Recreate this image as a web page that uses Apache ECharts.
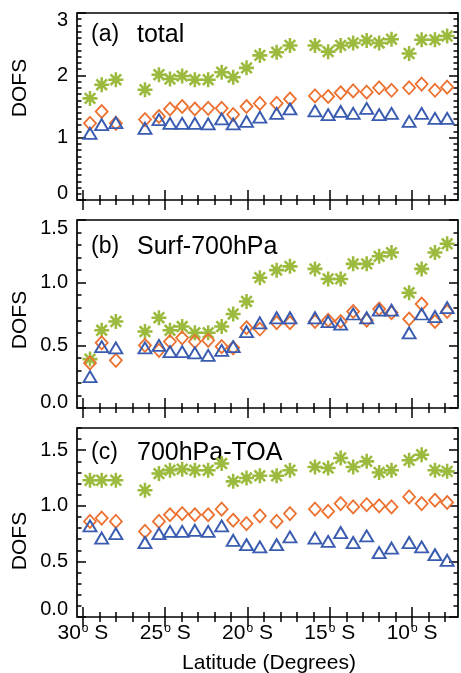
<!DOCTYPE html>
<html>
<head>
<meta charset="utf-8">
<script src="https://cdn.jsdelivr.net/npm/echarts@6/dist/echarts.min.js"></script>
<style>
  html, body { margin: 0; padding: 0; background: #fff; }
  #chart { width: 461px; height: 673px; }
</style>
</head>
<body>
<div id="chart"></div>
<script>
// Latitude of each retrieval bin (negative = southern hemisphere)
const latitudes = [-29.57, -28.86, -28.0, -26.23, -25.38, -24.71, -23.97, -23.2, -22.39, -21.57,
  -20.87, -20.06, -19.25, -18.23, -17.42, -15.9, -15.1, -14.34, -13.58, -12.76,
  -12.0, -11.25, -10.18, -9.42, -8.61, -7.87];

// (a) total column DOFS
const totalGreen = [1.63, 1.85, 1.93, 1.77, 2.01, 1.94, 1.99, 1.93, 1.93, 2.05, 1.97, 2.12, 2.32,
  2.37, 2.48, 2.48, 2.38, 2.48, 2.52, 2.56, 2.52, 2.58, 2.35, 2.57, 2.57, 2.63];
const totalOrange = [1.23, 1.42, 1.23, 1.29, 1.34, 1.46, 1.50, 1.46, 1.47, 1.47, 1.37, 1.50, 1.55,
  1.55, 1.62, 1.67, 1.66, 1.72, 1.75, 1.73, 1.80, 1.76, 1.80, 1.86, 1.76, 1.81];
const totalBlue = [1.07, 1.21, 1.24, 1.15, 1.29, 1.23, 1.23, 1.23, 1.22, 1.30, 1.22, 1.26, 1.33,
  1.39, 1.46, 1.43, 1.37, 1.42, 1.39, 1.47, 1.37, 1.39, 1.26, 1.39, 1.31, 1.31];

// (b) surface to 700 hPa
const lowerGreen = [0.39, 0.62, 0.69, 0.61, 0.72, 0.62, 0.65, 0.60, 0.60, 0.65, 0.75, 0.85, 1.04,
  1.10, 1.13, 1.11, 1.03, 1.03, 1.15, 1.15, 1.21, 1.24, 0.92, 1.11, 1.24, 1.31];
const lowerOrange = [0.36, 0.52, 0.38, 0.50, 0.46, 0.53, 0.56, 0.53, 0.54, 0.49, 0.48, 0.64, 0.63,
  0.68, 0.68, 0.69, 0.70, 0.69, 0.77, 0.70, 0.79, 0.76, 0.71, 0.83, 0.69, 0.77];
const lowerBlue = [0.25, 0.49, 0.48, 0.48, 0.50, 0.45, 0.45, 0.44, 0.42, 0.46, 0.49, 0.61, 0.68,
  0.72, 0.72, 0.72, 0.69, 0.67, 0.75, 0.72, 0.78, 0.78, 0.60, 0.75, 0.73, 0.80];

// (c) 700 hPa to top of atmosphere
const upperGreen = [1.23, 1.23, 1.23, 1.14, 1.29, 1.32, 1.33, 1.32, 1.32, 1.38, 1.22, 1.25, 1.27,
  1.27, 1.32, 1.35, 1.34, 1.43, 1.35, 1.40, 1.30, 1.32, 1.41, 1.46, 1.32, 1.31];
const upperOrange = [0.86, 0.89, 0.86, 0.77, 0.86, 0.92, 0.93, 0.92, 0.92, 0.97, 0.87, 0.84, 0.91,
  0.86, 0.93, 0.97, 0.95, 1.02, 0.99, 1.01, 1.00, 0.99, 1.08, 1.02, 1.05, 1.03];
const upperBlue = [0.82, 0.71, 0.75, 0.67, 0.75, 0.77, 0.77, 0.78, 0.77, 0.82, 0.69, 0.65, 0.63,
  0.65, 0.72, 0.71, 0.68, 0.76, 0.67, 0.73, 0.58, 0.62, 0.67, 0.63, 0.56, 0.51];

// Axis ticks and labels
const latMajorTicks = [-30, -25, -20, -15, -10];
const latMinorTicks = [-30, -29, -28, -27, -26, -25, -24, -23, -22, -21, -20, -19, -18, -17, -16,
  -15, -14, -13, -12, -11, -10, -9, -8];
const panelTitles = ['(a)', '(b)', '(c)'];
const panelNames = ['total', 'Surf-700hPa', '700hPa-TOA'];
const dofsMajor = [[0, 1, 2, 3], [0, 0.5, 1.0, 1.5], [0, 0.5, 1.0, 1.5]];
const dofsRange = [[0, 3], [0, 1.5], [0, 1.7]];

const GREEN = '#9cbb3e';
const ORANGE = '#ec7130';
const BLUE = '#3a5cb0';
const FONT = '"Liberation Sans", Arial, Helvetica, sans-serif';

// Eight-armed asterisk marker, built as a union of four bars
function asteriskPath() {
  const half = 50, t = 8.5;
  let d = '';
  [0, 45, 90, 135].forEach(function (deg) {
    const a = deg * Math.PI / 180, c = Math.cos(a), s = Math.sin(a);
    const pts = [[-half, -t], [half, -t], [half, t], [-half, t]].map(function (p) {
      return [(p[0] * c - p[1] * s + 50).toFixed(2), (p[0] * s + p[1] * c + 50).toFixed(2)];
    });
    d += 'M' + pts[0].join(' ') + 'L' + pts[1].join(' ') + 'L' + pts[2].join(' ') + 'L' + pts[3].join(' ') + 'Z';
  });
  return 'path://' + d;
}
const STAR = asteriskPath();

const grids = [
  { left: 77, top: 13, width: 381, height: 187 },
  { left: 77, top: 220, width: 381, height: 188 },
  { left: 77, top: 428, width: 381, height: 189 }
];

// Edge tick labels sit slightly inside the frame
const labelShift = [[13, 14], [12, 16], [16, 0]];

const xAxes = [], yAxes = [], series = [];
const tickStyle = { color: '#000', width: 1.5 };

grids.forEach(function (g, i) {
  const xmin = -30.36, xmax = -7.21;
  const base = { type: 'value', gridIndex: i, min: xmin, max: xmax, axisLine: { show: false },
    splitLine: { show: false } };
  // bottom major (carries the data)
  xAxes.push(Object.assign({}, base, {
    position: 'bottom',
    axisTick: { show: true, inside: true, length: 10, lineStyle: tickStyle, customValues: latMajorTicks },
    axisLabel: {
      show: i === 2, customValues: latMajorTicks, margin: 6,
      formatter: function (v) { return '{n|' + Math.abs(v) + '}{d|o}{n| S}'; },
      rich: {
        n: { fontSize: 21, fontFamily: FONT, color: '#000' },
        d: { fontSize: 12, fontFamily: FONT, color: '#000', verticalAlign: 'top', padding: [0, 0, 9, 1] }
      }
    }
  }));
  // bottom minor
  xAxes.push(Object.assign({}, base, {
    position: 'bottom',
    axisTick: { show: true, inside: true, length: 5, lineStyle: tickStyle, customValues: latMinorTicks },
    axisLabel: { show: false }
  }));
  // top major / minor
  xAxes.push(Object.assign({}, base, {
    position: 'top',
    axisTick: { show: true, inside: true, length: 10, lineStyle: tickStyle, customValues: latMajorTicks },
    axisLabel: { show: false }
  }));
  xAxes.push(Object.assign({}, base, {
    position: 'top',
    axisTick: { show: true, inside: true, length: 5, lineStyle: tickStyle, customValues: latMinorTicks },
    axisLabel: { show: false }
  }));

  const ymin = dofsRange[i][0], ymax = dofsRange[i][1];
  const minor = [];
  for (let k = 0; k <= Math.round(ymax * 10); k++) minor.push(k / 10);
  const ybase = { type: 'value', gridIndex: i, min: ymin, max: ymax, axisLine: { show: false },
    splitLine: { show: false } };
  const decimals = i === 0 ? 0 : 1;
  const top = dofsMajor[i][dofsMajor[i].length - 1];
  yAxes.push(Object.assign({}, ybase, {
    position: 'left',
    axisTick: { show: true, inside: true, length: 9, lineStyle: tickStyle, customValues: dofsMajor[i] },
    axisLabel: {
      show: true, customValues: dofsMajor[i], margin: 9, color: '#000',
      formatter: function (v) {
        const s = v.toFixed(decimals);
        if (v === 0) return '{lo|' + s + '}';
        if (v === top && labelShift[i][1] > 0) return '{hi|' + s + '}';
        return '{m|' + s + '}';
      },
      rich: {
        m: { fontSize: 20, fontFamily: FONT, color: '#000' },
        lo: { fontSize: 20, fontFamily: FONT, color: '#000', padding: [0, 0, labelShift[i][0], 0] },
        hi: { fontSize: 20, fontFamily: FONT, color: '#000', padding: [labelShift[i][1], 0, 0, 0] }
      }
    }
  }));
  yAxes.push(Object.assign({}, ybase, {
    position: 'left',
    axisTick: { show: true, inside: true, length: 4.5, lineStyle: tickStyle, customValues: minor },
    axisLabel: { show: false }
  }));
  yAxes.push(Object.assign({}, ybase, {
    position: 'right',
    axisTick: { show: true, inside: true, length: 9, lineStyle: tickStyle, customValues: dofsMajor[i] },
    axisLabel: { show: false }
  }));
  yAxes.push(Object.assign({}, ybase, {
    position: 'right',
    axisTick: { show: true, inside: true, length: 4.5, lineStyle: tickStyle, customValues: minor },
    axisLabel: { show: false }
  }));
});

const panelData = [
  [totalGreen, totalOrange, totalBlue],
  [lowerGreen, lowerOrange, lowerBlue],
  [upperGreen, upperOrange, upperBlue]
];

panelData.forEach(function (sets, i) {
  const pair = function (vals) { return latitudes.map(function (lat, k) { return [lat, vals[k]]; }); };
  series.push({
    type: 'scatter', xAxisIndex: i * 4, yAxisIndex: i * 4, data: pair(sets[0]),
    symbol: STAR, symbolSize: 15, itemStyle: { color: GREEN, opacity: 1 }, silent: true, z: 2
  });
  series.push({
    type: 'scatter', xAxisIndex: i * 4, yAxisIndex: i * 4, data: pair(sets[1]),
    symbol: 'diamond', symbolSize: [12, 13],
    itemStyle: { color: 'rgba(0,0,0,0)', borderColor: ORANGE, borderWidth: 1.8, opacity: 1 }, silent: true, z: 3
  });
  series.push({
    type: 'scatter', xAxisIndex: i * 4, yAxisIndex: i * 4, data: pair(sets[2]),
    symbol: 'triangle', symbolSize: [13, 11],
    itemStyle: { color: 'rgba(0,0,0,0)', borderColor: BLUE, borderWidth: 1.9, opacity: 1 }, silent: true, z: 4
  });
});

const titleY = [35, 247, 453];
const dofsY = [88, 320, 541];
const graphic = [];
titleY.forEach(function (y, i) {
  graphic.push({ type: 'text', x: 91, y: y, silent: true,
    style: { text: panelTitles[i], fontSize: 23, fontFamily: FONT, fill: '#000', align: 'left', verticalAlign: 'middle' } });
  graphic.push({ type: 'text', x: 137, y: y, silent: true,
    style: { text: panelNames[i], fontSize: 25, fontFamily: FONT, fill: '#000', align: 'left', verticalAlign: 'middle' } });
  graphic.push({ type: 'text', x: 20, y: dofsY[i], rotation: Math.PI / 2, silent: true,
    style: { text: 'DOFS', fontSize: 21, fontFamily: FONT, fill: '#000', align: 'center', verticalAlign: 'middle' } });
});
graphic.push({ type: 'text', x: 269, y: 663, silent: true,
  style: { text: 'Latitude (Degrees)', fontSize: 21, fontFamily: FONT, fill: '#000', align: 'center', verticalAlign: 'middle' } });

const chart = echarts.init(document.getElementById('chart'), null, { renderer: 'canvas' });
chart.setOption({
  animation: false,
  backgroundColor: '#fff',
  grid: grids.map(function (g) {
    return Object.assign({ show: true, borderColor: '#000', borderWidth: 1.7, backgroundColor: 'transparent',
      containLabel: false }, g);
  }),
  xAxis: xAxes,
  yAxis: yAxes,
  series: series,
  graphic: graphic
});
</script>
</body>
</html>
